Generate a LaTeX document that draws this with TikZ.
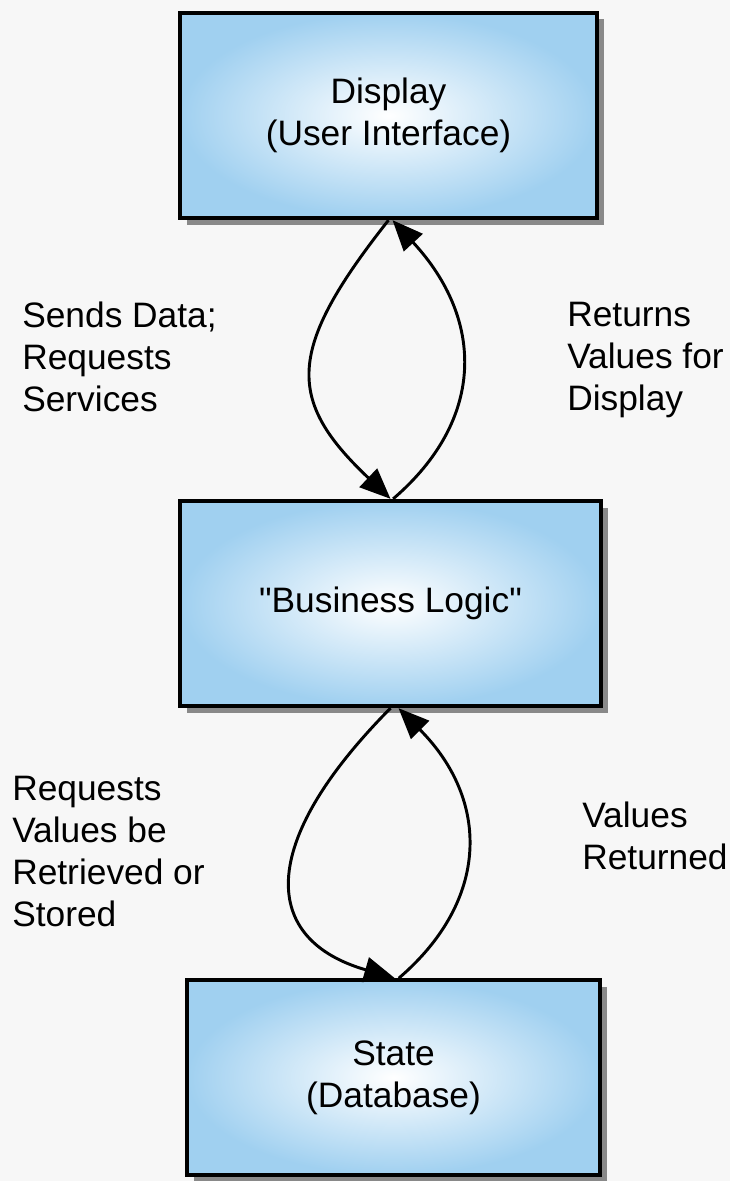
\documentclass[tikz,border=0pt]{standalone}
\usepackage{fontspec}
\setmainfont{Liberation Sans}
\usetikzlibrary{arrows.meta,shadows}

\definecolor{boxblue}{RGB}{160,208,240}
\newcommand{\labelfont}{\fontsize{26.5}{31.5}\selectfont}

\tikzset{
  block/.style={draw=black, line width=3pt, shading=radial, inner color=white,
    outer color=boxblue, minimum width=313pt, minimum height=154pt, align=center,
    font=\labelfont, drop shadow={shadow xshift=5pt, shadow yshift=-5pt, fill=black!75, opacity=.6}},
  flow/.style={line width=2.2pt, -{Triangle[length=23pt,width=19pt]}},
  note/.style={anchor=north west, inner sep=0pt, align=left, font=\labelfont},
}

\begin{document}
\begin{tikzpicture}[x=0.75pt,y=0.75pt,yscale=-1,xscale=1]

            \useasboundingbox (0,0) rectangle (730,1181);
            \fill [black!3] (0,0) rectangle (730,1181);

            % Boxes
            \draw (388.5,115.5) node (display) [block] {Display\\(User Interface)};
            \draw (390.5,603.5) node (logic) [block, minimum width=316pt] {\textquotedbl Business Logic\textquotedbl};
            \draw (393.5,1077.5) node (state) [block, minimum width=310pt, minimum height=146pt] {State\\(Database)};

            % Arrows
            \draw [flow] (display.south) .. controls (286,350) and (286,400) .. (logic.north);
            \draw [flow] ([xshift=2pt]logic.north) .. controls (485,420) and (485,320) .. ([xshift=3pt]display.south);
            \draw [flow] (logic.south) .. controls (255,845) and (262,940) .. ([xshift=1pt]state.north);
            \draw [flow] ([xshift=4pt]state.north) .. controls (490,900) and (490,800) .. ([xshift=6pt]logic.south);

            % Labels
            \draw (22,302) node (sends) [note] {Sends Data;\\Requests\\Services};
            \draw (567,302) node (returns) [note] {Returns\\Values for\\Display};
            \draw (12,776) node (requests) [note] {Requests\\Values be\\Retrieved or\\Stored};
            \draw (582,802) node (returned) [note] {Values\\Returned};

\end{tikzpicture}
\end{document}
